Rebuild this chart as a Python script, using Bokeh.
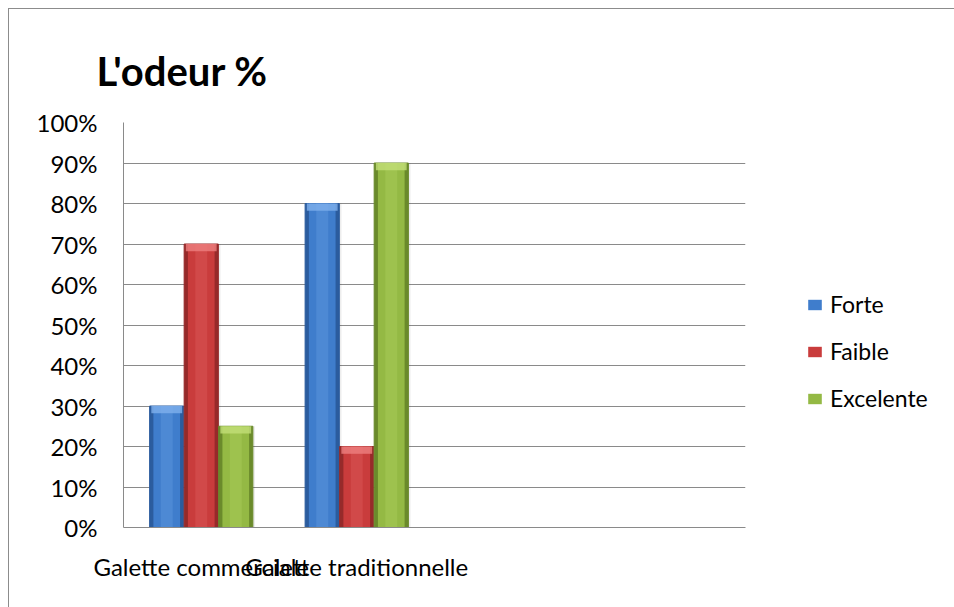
from bokeh.plotting import figure
from bokeh.models import (ColumnDataSource, FactorRange, Range1d, FixedTicker,
                          NumeralTickFormatter, Legend, LegendItem)
from bokeh.transform import dodge
from bokeh.embed import file_html
from bokeh.resources import INLINE

categories = ["Galette commerciale", "Galette traditionnelle"]
empty_slots = [" ", "  "]
series = ["Forte", "Faible", "Excelente"]
forte = [0.30, 0.80]
faible = [0.70, 0.20]
excelente = [0.25, 0.90]
y_ticks = [0.0, 0.1, 0.2, 0.3, 0.4, 0.5, 0.6, 0.7, 0.8, 0.9, 1.0]

colors_main = ["#3F7DCC", "#C93C3C", "#94B944"]
colors_edge = ["#2B5C9E", "#962A2A", "#6A8A2B"]
colors_light = ["#5C95DC", "#DA5555", "#A8CB58"]
colors_cap = ["#7FB0EC", "#EE8080", "#C2DE78"]

data = dict(cat=categories, Forte=forte, Faible=faible, Excelente=excelente)
for s, vals in (("Forte", forte), ("Faible", faible), ("Excelente", excelente)):
    data[s + "_cap"] = [v - 0.018 for v in vals]
src = ColumnDataSource(data)

FONT = "Lato"
p = figure(frame_width=622, frame_height=405, output_backend="svg", toolbar_location=None,
           x_range=FactorRange(factors=categories + empty_slots, range_padding=0),
           y_range=Range1d(0, 1),
           min_border_left=114, min_border_top=113, min_border_right=209,
           min_border_bottom=80)
p.styles = {"margin-left": "8px", "margin-top": "8px",
            "border-left": "1px solid #8c8c8c", "border-top": "1px solid #8c8c8c"}
p.outline_line_color = None
p.background_fill_color = "white"
p.border_fill_color = "white"

p.title.text = "L'odeur %"
p.title.text_font = FONT
p.title.text_font_style = "bold"
p.title.text_font_size = "40px"
p.title.text_color = "black"
p.title.align = "left"
p.title.offset = -27
p.title.standoff = 55
p.title.text_line_height = 1.0

offsets = [-0.222, 0.0, 0.222]
w = 0.22
legend_renderers = []
for i, s in enumerate(series):
    x = dodge("cat", offsets[i], range=p.x_range)
    p.vbar(x=dodge("cat", offsets[i] + 0.014, range=p.x_range), top=s, bottom=0,
           width=w, source=src, fill_color="#000000", fill_alpha=0.07, line_color=None)
    p.vbar(x=x, top=s, bottom=0, width=w, source=src, fill_color=colors_edge[i],
           line_color=colors_edge[i], line_width=1)
    r = p.vbar(x=x, top=s, bottom=0, width=w * 0.78, source=src, fill_color=colors_main[i],
               line_color=None)
    p.vbar(x=x, top=s, bottom=0, width=w * 0.35, source=src, fill_color=colors_light[i],
           fill_alpha=0.5, line_color=None)
    p.vbar(x=x, top=s, bottom=s + "_cap", width=w * 0.9, source=src,
           fill_color=colors_cap[i], fill_alpha=0.8, line_color=None)
    legend_renderers.append(r)

p.xgrid.visible = False
p.ygrid.grid_line_color = "#8a8a8a"
p.ygrid.grid_line_width = 1
p.yaxis.ticker = FixedTicker(ticks=y_ticks)
p.yaxis.formatter = NumeralTickFormatter(format="0%")
for ax in (p.xaxis[0], p.yaxis[0]):
    ax.axis_line_color = "#8a8a8a"
    ax.major_tick_line_color = None
    ax.minor_tick_line_color = None
    ax.major_label_text_font = FONT
    ax.major_label_text_font_size = "24px"
    ax.major_label_text_color = "black"
p.yaxis.major_label_standoff = 20
p.xaxis.major_label_standoff = 18

legend = Legend(items=[LegendItem(label=s, renderers=[legend_renderers[i]]) for i, s in enumerate(series)],
                location=(61, 115), orientation="vertical",
                glyph_width=17, glyph_height=13, label_height=24, spacing=19,
                padding=0, margin=0, border_line_color=None, background_fill_alpha=0,
                label_text_font=FONT, label_text_font_size="23px", label_text_color="black",
                label_standoff=7)
p.add_layout(legend, "right")

open("out.html", "w").write(file_html(p, INLINE))
